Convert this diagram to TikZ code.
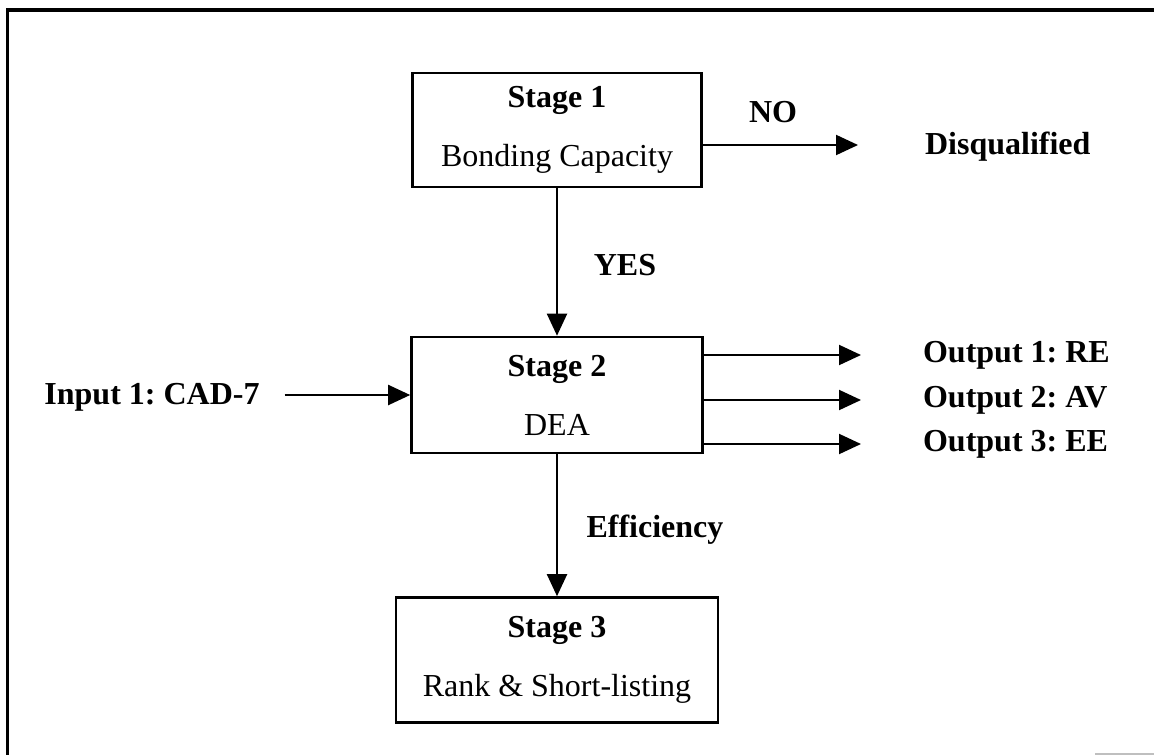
\documentclass[tikz,border=0pt]{standalone}
\usepackage{fontspec}
\setmainfont{Liberation Serif}
\frenchspacing
\usetikzlibrary{arrows.meta}
\tikzset{
  stg/.style={draw, line width=1.3pt, align=center, inner sep=0pt,
              font=\fontsize{16}{29.5}\selectfont},
  flowarr/.style={-{Triangle[length=11pt,width=10pt]}, line width=1pt},
  lbl/.style={font=\fontsize{16}{19}\selectfont\bfseries},
}

\begin{document}
\begin{tikzpicture}[x=0.5pt, y=-0.5pt]
    \useasboundingbox (0,0) rectangle (1154,755);
    % --- frame
    \draw[line width=2pt] (6,10) -- (1154,10);
    \draw[line width=1.5pt] (7,10) -- (7,755);
    \draw[gray!50, line width=1pt] (1095,754) -- (1154,754);
    % --- stages
    \node[stg, minimum width=144.5pt, minimum height=57pt] (s1) at (557,130)
         {\textbf{Stage 1}\\Bonding Capacity};
    \node[stg, minimum width=145.5pt, minimum height=58pt] (s2) at (557,395)
         {\textbf{Stage 2}\\DEA};
    \node[stg, minimum width=161pt, minimum height=62.5pt] (s3) at (557,660)
         {\textbf{Stage 3}\\Rank \& Short-listing};
    % --- stage 1 decision
    \node[lbl] (no) at (773,112) {NO};
    \node[lbl, anchor=west] (dq) at (918,147) {Disqualified};
    \coordinate (noend) at (858,145);
    \draw[flowarr] (s1.east |- noend) -- (noend);
    \node[lbl] (yes) at (625,265) {YES};
    \draw[flowarr] (s1) -- (s2);
    % --- input and outputs
    \node[lbl] (inp) at (152,397) {Input 1: CAD-7};
    \draw[flowarr, shorten <=9pt] (inp.east |- s2) -- (s2);
    \foreach \i/\t/\y in {1/RE/355, 2/AV/400, 3/EE/444}{
      \node[lbl, anchor=west] (out\i) at (916,\y) {Output \i: \t};
      \draw[flowarr, shorten >=27.5pt] (s2.east |- out\i.west) -- (out\i.west);
    }
    % --- ranking
    \node[lbl] (eff) at (655,530) {Efficiency};
    \draw[flowarr] (s2) -- (s3);
\end{tikzpicture}
\end{document}
